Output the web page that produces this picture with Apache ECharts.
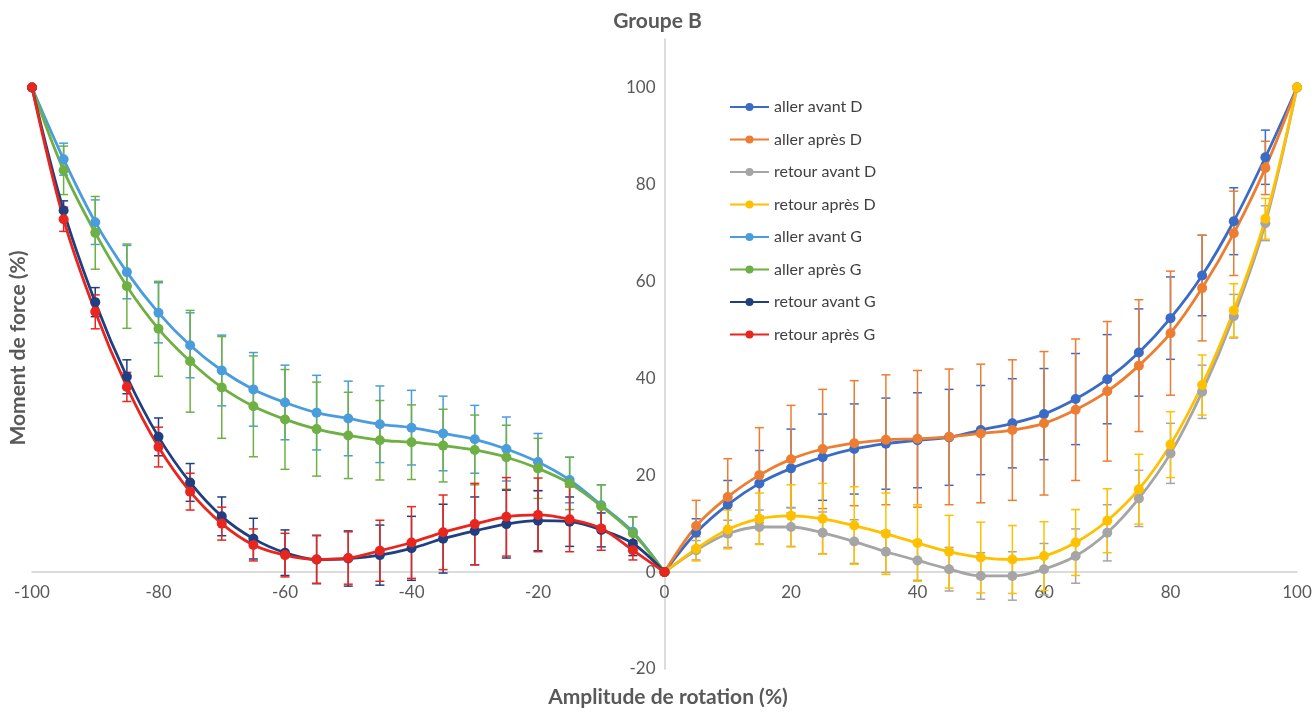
<!DOCTYPE html>
<html>
<head>
<meta charset="utf-8">
<script src="https://cdn.jsdelivr.net/npm/echarts@6/dist/echarts.min.js"></script>
<style>html,body{margin:0;padding:0;background:#fff;}#c{width:1315px;height:713px;}</style>
</head>
<body>
<div id="c"></div>
<script>
// ---- data ----
const xG = [-100,-95,-90,-85,-80,-75,-70,-65,-60,-55,-50,-45,-40,-35,-30,-25,-20,-15,-10,-5,0];
const xD = [0,5,10,15,20,25,30,35,40,45,50,55,60,65,70,75,80,85,90,95,100];
const yTicks = [-20,0,20,40,60,80,100];

const allerAvantD   = [0,8.1,13.9,18.3,21.4,23.7,25.4,26.5,27.2,27.8,29.3,30.7,32.6,35.7,39.8,45.3,52.4,61.2,72.4,85.6,100];
const allerAvantDsd = [0,2.9,5.0,6.8,8.1,8.9,9.3,9.4,9.8,9.9,9.2,9.2,9.4,9.4,9.2,9.0,8.5,8.3,6.9,5.6,0];
const allerApresD   = [0,9.5,15.5,20.0,23.3,25.4,26.6,27.3,27.5,27.9,28.6,29.3,30.7,33.5,37.3,42.6,49.3,58.6,69.9,83.4,100];
const allerApresDsd = [0,5.3,7.9,9.8,11.1,12.3,12.9,13.4,14.1,14.0,14.3,14.5,14.8,14.6,14.4,13.6,12.8,10.9,8.7,5.5,0];
const retourAvantD   = [0,4.5,7.9,9.3,9.3,8.1,6.3,4.2,2.4,0.6,-0.8,-0.8,0.6,3.3,8.1,15.2,24.5,37.2,52.8,72.0,100];
const retourAvantDsd = [0,2.0,2.8,3.5,4.0,4.3,4.5,4.3,4.1,4.5,4.8,5.0,5.3,5.6,5.8,5.8,6.2,5.5,4.5,3.6,0];
const retourApresD   = [0,4.8,8.8,11.0,11.6,11.0,9.6,7.9,6.0,4.2,3.0,2.6,3.3,6.1,10.6,17.1,26.3,38.6,54.0,72.9,100];
const retourApresDsd = [0,2.5,4.0,5.3,6.4,7.3,8.0,8.4,7.9,7.5,7.3,7.0,7.1,6.8,6.6,7.2,6.8,6.2,5.5,4.2,0];

const allerAvantG   = [100,85.2,72.2,61.9,53.5,46.8,41.6,37.7,35.0,32.9,31.7,30.5,29.8,28.6,27.4,25.4,22.7,19.0,13.8,8.3,0];
const allerAvantGsd = [0,3.3,4.6,5.5,6.2,6.7,7.3,7.6,7.7,7.7,7.7,7.9,7.7,7.7,7.0,6.6,5.9,4.7,4.2,3.1,0];
const allerApresG   = [100,82.9,70.0,59.0,50.2,43.5,38.1,34.2,31.5,29.5,28.2,27.2,26.8,26.1,25.2,23.7,21.4,18.3,13.6,8.0,0];
const allerApresGsd = [0,5.0,7.5,8.7,9.8,10.5,10.5,10.4,10.3,9.7,8.9,8.2,7.7,7.5,7.2,6.6,6.2,5.4,4.4,3.4,0];
const retourAvantG   = [100,74.6,55.7,40.3,27.9,18.5,11.5,6.9,4.0,2.6,2.8,3.5,4.9,6.9,8.5,9.9,10.6,10.4,8.7,5.9,0];
const retourAvantGsd = [0,2.0,3.0,3.5,3.9,3.9,4.0,4.2,4.7,5.0,5.7,6.2,6.6,7.1,7.0,7.0,6.2,5.1,3.5,2.5,0];
const retourApresG   = [100,72.8,53.7,38.2,25.8,16.6,10.0,5.6,3.5,2.6,2.9,4.4,6.1,8.2,9.9,11.4,11.8,10.9,9.0,4.5,0];
const retourApresGsd = [0,2.5,3.5,3.0,4.1,3.8,3.4,3.3,4.5,4.9,5.4,6.3,7.4,7.7,8.4,8.1,7.6,6.7,4.5,2.0,0];

// ---- series definitions ----
const defs = [
  {name:'aller avant D',  xs:xD, v:allerAvantD,  sd:allerAvantDsd,  color:'#3a6bc6'},
  {name:'aller après D',  xs:xD, v:allerApresD,  sd:allerApresDsd,  color:'#ed7d31'},
  {name:'retour avant D', xs:xD, v:retourAvantD, sd:retourAvantDsd, color:'#a5a5a5'},
  {name:'retour après D', xs:xD, v:retourApresD, sd:retourApresDsd, color:'#ffc000'},
  {name:'aller avant G',  xs:xG, v:allerAvantG,  sd:allerAvantGsd,  color:'#4a9ddc'},
  {name:'aller après G',  xs:xG, v:allerApresG,  sd:allerApresGsd,  color:'#6eb043'},
  {name:'retour avant G', xs:xG, v:retourAvantG, sd:retourAvantGsd, color:'#203f80'},
  {name:'retour après G', xs:xG, v:retourApresG, sd:retourApresGsd, color:'#e8261e'}
];

const FONT = 'Lato, "Open Sans", sans-serif';

// layout
const W = 1315, H = 713;
const G_LEFT = 32, G_RIGHT = 18, G_TOP = 39, G_BOTTOM = 44;
const X_MIN = -100, X_MAX = 100, Y_MIN = -20, Y_MAX = 110;
const plotW = W - G_LEFT - G_RIGHT, plotH = H - G_TOP - G_BOTTOM;
// shift axes so they cross at (0,0)
const yAxisOffset = -plotW * (0 - X_MIN) / (X_MAX - X_MIN);
const xAxisOffset = -plotH * (0 - Y_MIN) / (Y_MAX - Y_MIN);

function errRender(color){
  return function(params, api){
    const x = api.value(0), lo = api.value(1), hi = api.value(2);
    const p1 = api.coord([x, lo]), p2 = api.coord([x, hi]);
    const w = 4.5;
    const st = {stroke: color, lineWidth: 1.5};
    return {type:'group', children:[
      {type:'line', shape:{x1:p1[0], y1:p1[1], x2:p2[0], y2:p2[1]}, style:st},
      {type:'line', shape:{x1:p1[0]-w, y1:p1[1], x2:p1[0]+w, y2:p1[1]}, style:st},
      {type:'line', shape:{x1:p2[0]-w, y1:p2[1], x2:p2[0]+w, y2:p2[1]}, style:st}
    ]};
  };
}

const series = [];
defs.forEach(d => {
  const data = [];
  d.xs.forEach((x,i) => { if (d.sd[i] > 0) data.push([x, d.v[i]-d.sd[i], d.v[i]+d.sd[i]]); });
  series.push({
    type:'custom', name: d.name + ' err', renderItem: errRender(d.color),
    encode:{x:0, y:[1,2]}, data: data, z: 1, silent: true
  });
});
defs.forEach(d => {
  series.push({
    type:'line', name: d.name, smooth: 0.35,
    data: d.xs.map((x,i) => [x, d.v[i]]),
    symbol:'circle', symbolSize: 10, showSymbol: true,
    lineStyle:{color:d.color, width:2.8},
    itemStyle:{color:d.color},
    z: 3
  });
});

const chart = echarts.init(document.getElementById('c'), null, {renderer:'canvas'});
chart.setOption({
  animation:false,
  backgroundColor:'#ffffff',
  title:{text:'Groupe B', left:'center', top:6,
    textStyle:{fontFamily:FONT, fontSize:21, fontWeight:'bold', color:'#595959'}},
  legend:{
    data: defs.map(d => d.name),
    orient:'vertical', left:724, top:94,
    itemWidth:39, itemHeight:10, itemGap:16.5,
    textStyle:{fontFamily:FONT, fontSize:16, color:'#404040', lineHeight:16}
  },
  grid:{left:G_LEFT, right:G_RIGHT, top:G_TOP, bottom:G_BOTTOM, containLabel:false},
  xAxis:{
    type:'value', min:X_MIN, max:X_MAX, interval:20, position:'bottom', offset:xAxisOffset,
    axisLine:{onZero:false, lineStyle:{color:'#d0d0d0', width:1.5}},
    axisTick:{show:false}, splitLine:{show:false},
    axisLabel:{fontFamily:FONT, fontSize:17, color:'#595959', margin:12}
  },
  yAxis:{
    type:'value', min:Y_MIN, max:Y_MAX, interval:20, position:'left', offset:yAxisOffset,
    axisLine:{show:true, onZero:false, lineStyle:{color:'#d0d0d0', width:1.5}},
    axisTick:{show:false}, splitLine:{show:false},
    axisLabel:{fontFamily:FONT, fontSize:17, color:'#595959', margin:9, showMaxLabel:false,
      formatter: v => yTicks.indexOf(v) >= 0 ? String(v) : ''}
  },
  graphic:[
    {type:'text', x:668, y:697,
      style:{text:'Amplitude de rotation (%)', font:'bold 21px ' + FONT, fill:'#595959',
        align:'center', verticalAlign:'middle'}},
    {type:'text', x:18, y:348, rotation:Math.PI/2,
      style:{text:'Moment de force (%)', font:'bold 21px ' + FONT, fill:'#595959',
        align:'center', verticalAlign:'middle'}}
  ],
  series: series
});
</script>
</body>
</html>
